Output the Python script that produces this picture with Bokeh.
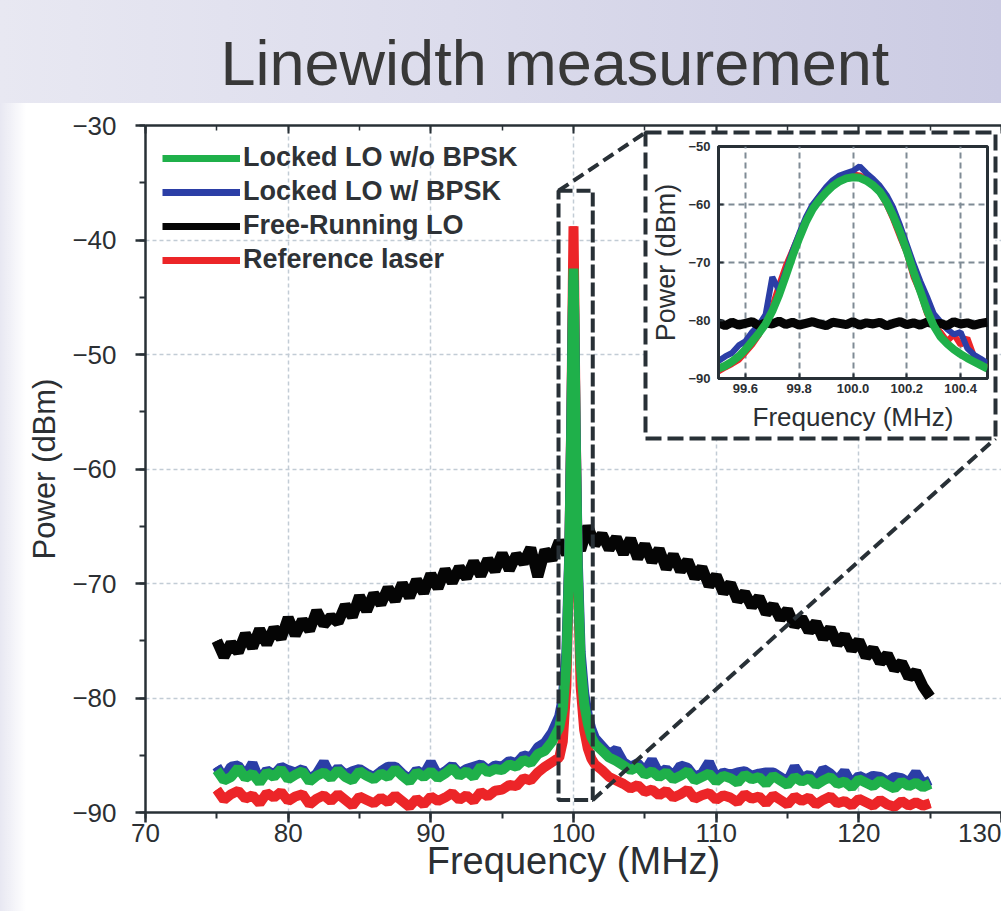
import numpy as np
from bokeh.plotting import figure
from bokeh.models import (Range1d, LinearAxis, FixedTicker, SingleIntervalTicker,
                          PrintfTickFormatter, Legend, LegendItem, CustomLabelingPolicy)
from bokeh.embed import file_html
from bokeh.resources import INLINE

FONT = "Liberation Sans"
AX = "#283036"
TXT = "#2b2f33"

# ---------------- data ----------------
FREQ_LOW = np.arange(75.0, 98.75, 0.5)
FREQ_PEAK = [99.0, 99.25, 99.5, 99.7, 99.85, 99.95, 100.0, 100.05, 100.15, 100.3, 100.5, 100.75, 101.0, 101.25]
FREQ_HIGH = np.arange(101.5, 125.25, 0.5)
FREQ_LOCKED = list(FREQ_LOW) + FREQ_PEAK + list(FREQ_HIGH)
FREQ_FREE = np.arange(75.0, 125.25, 0.5)

GREEN_LOW = [-86.3, -87.2, -86.9, -86.1, -87.0, -86.6, -87.4, -86.5,
             -86.9, -86.2, -87.1, -86.7, -86.4, -87.3, -86.8, -86.5,
             -87.0, -86.3, -86.9, -87.2, -86.4, -86.8, -87.1, -86.6,
             -86.9, -86.2, -86.8, -87.3, -86.5, -86.9, -86.4, -87.0,
             -86.6, -86.1, -86.8, -86.4, -86.9, -86.0, -86.5, -86.2,
             -86.3, -85.8, -86.0, -85.4, -85.7, -84.9, -84.6, -83.8]
GREEN_PEAK = [-82.6, -81.0, -77.0, -68.0, -56.0, -46.0, -42.5, -46.0, -57.0, -69.0, -77.0, -80.5, -82.2, -83.4]
GREEN_HIGH = [-84.0, -84.6, -85.2, -85.5, -85.9, -86.3, -86.0, -86.7,
              -86.4, -86.9, -86.5, -87.1, -86.8, -86.4, -87.2, -86.9,
              -86.6, -87.3, -86.8, -87.0, -87.4, -86.7, -87.1, -86.9,
              -87.5, -86.8, -87.2, -87.6, -86.9, -87.3, -87.0, -87.6,
              -87.2, -86.9, -87.5, -87.3, -87.8, -87.1, -87.4, -87.7,
              -87.2, -87.6, -87.9, -87.3, -87.7, -87.4, -87.8, -87.5]

BLUE_LOW = [-86.0, -87.0, -86.0, -85.9, -86.8, -85.7, -87.2, -86.3,
            -86.7, -86.0, -86.3, -86.5, -86.2, -87.1, -86.6, -85.6,
            -86.8, -86.1, -86.7, -86.4, -86.2, -86.6, -86.9, -86.4,
            -86.0, -86.0, -86.6, -87.1, -86.3, -86.7, -85.6, -86.8,
            -86.4, -85.9, -86.6, -86.2, -86.0, -85.8, -86.3, -85.9,
            -86.0, -85.5, -85.7, -85.0, -85.2, -84.3, -83.9, -83.0]
BLUE_PEAK = [-81.6, -80.0, -76.0, -67.5, -55.5, -46.5, -43.5, -46.5, -56.5, -68.0, -76.0, -79.6, -81.5, -82.7]
BLUE_HIGH = [-83.5, -84.2, -84.9, -84.5, -85.6, -86.0, -85.7, -86.4,
             -85.4, -86.6, -86.2, -86.8, -85.9, -86.1, -86.9, -86.6,
             -85.6, -87.0, -86.5, -86.7, -86.5, -86.4, -86.8, -86.6,
             -86.5, -86.5, -86.9, -87.3, -86.0, -87.0, -86.7, -87.3,
             -86.2, -86.6, -87.2, -86.4, -87.5, -86.8, -87.1, -86.8,
             -86.9, -87.3, -86.9, -87.0, -87.4, -86.5, -87.5, -87.2]

RED_LOW = [-88.0, -88.9, -88.4, -88.1, -88.8, -88.5, -89.2, -88.3,
           -88.7, -88.2, -89.0, -88.6, -88.4, -89.3, -88.8, -88.5,
           -89.0, -88.4, -88.9, -89.4, -88.6, -88.9, -89.2, -88.7,
           -89.1, -88.5, -89.0, -89.5, -88.8, -89.3, -88.6, -89.0,
           -88.7, -88.3, -88.9, -88.5, -89.0, -88.2, -88.6, -88.1,
           -88.0, -87.6, -87.7, -87.0, -87.2, -86.5, -86.0, -85.6]
RED_PEAK = [-85.2, -83.8, -79.0, -68.0, -55.0, -44.0, -38.8, -44.0, -56.0, -69.0, -79.0, -82.8, -84.4, -85.3]
RED_HIGH = [-85.8, -86.3, -86.9, -87.2, -87.5, -87.9, -87.6, -88.2,
            -88.0, -88.5, -88.1, -88.7, -88.4, -88.0, -88.8, -88.5,
            -88.3, -88.9, -88.5, -88.7, -89.1, -88.4, -88.8, -88.6,
            -89.2, -88.5, -88.9, -89.3, -88.6, -89.0, -88.7, -89.3,
            -88.9, -88.6, -89.2, -89.0, -89.4, -88.8, -89.1, -89.4,
            -88.9, -89.3, -89.5, -89.0, -89.4, -89.1, -89.4, -89.2]

BLACK = [-75.0, -76.4, -75.2, -76.0, -74.4, -75.6, -74.0, -75.3, -73.9, -74.8,
         -73.0, -74.5, -73.2, -74.1, -72.4, -73.6, -72.9, -73.4, -71.9, -72.9,
         -71.1, -72.4, -70.9, -71.8, -70.4, -71.5, -70.0, -71.2, -69.7, -70.8,
         -69.2, -70.4, -68.8, -69.9, -68.6, -69.5, -68.1, -69.3, -67.9, -68.9,
         -67.4, -68.8, -67.5, -68.2, -66.9, -69.4, -67.1, -67.9, -66.3, -67.4,
         -65.9, -67.1, -65.0, -66.6, -65.7, -67.0, -66.0, -67.4, -66.1, -67.8,
         -66.6, -68.1, -67.0, -68.7, -67.5, -68.9, -68.0, -69.5, -68.6, -70.2,
         -69.3, -70.8, -70.0, -71.5, -70.8, -72.0, -71.2, -72.6, -71.9, -73.1,
         -72.3, -73.7, -73.0, -74.2, -73.4, -74.8, -73.9, -75.3, -74.5, -75.8,
         -75.0, -76.4, -75.7, -76.9, -76.2, -77.5, -76.9, -78.2, -77.7, -79.0,
         -79.9]

# inset (zoom around 100 MHz)
INSET_FREQ = np.round(np.arange(99.5, 100.5001, 0.025), 3)
INSET_GREEN = [-88.3, -87.8, -87.1, -86.2, -85.0, -83.6, -82.2, -80.6, -78.4, -75.6,
               -72.3, -68.9, -65.8, -63.0, -60.8, -59.2, -57.9, -56.8, -56.0, -55.5,
               -55.3, -55.4, -55.9, -56.7, -57.8, -59.6, -62.0, -64.8, -68.0, -71.6,
               -74.9, -78.2, -80.9, -82.8, -84.0, -85.0, -85.8, -86.5, -87.1, -87.7,
               -88.3]
INSET_BLUE = [-87.0, -86.2, -85.6, -84.3, -83.6, -82.0, -80.8, -79.0, -72.5, -74.8,
              -71.5, -68.0, -65.0, -62.2, -60.0, -58.5, -57.0, -55.8, -55.0, -54.6,
              -54.2, -53.4, -54.6, -55.6, -56.8, -58.4, -60.6, -63.6, -66.9, -70.2,
              -73.2, -75.9, -78.8, -80.2, -81.5, -82.4, -82.0, -84.8, -85.9, -86.6,
              -87.4]
INSET_RED = [-88.8, -88.1, -87.5, -86.8, -85.5, -84.2, -82.5, -80.1, -77.6, -73.9,
             -70.6, -67.9, -65.2, -62.6, -60.3, -58.6, -57.2, -56.1, -55.4, -54.9,
             -54.8, -55.0, -55.6, -56.5, -57.9, -60.0, -62.6, -65.6, -68.4, -72.5,
             -75.2, -78.8, -81.0, -82.0, -83.6, -82.4, -84.2, -83.0, -86.2, -87.4,
             -88.0]
INSET_BLACK = [-80.4, -80.9, -80.3, -80.8, -80.5, -80.2, -80.9, -80.4, -80.6, -80.1,
               -80.7, -80.3, -80.8, -80.5, -80.2, -80.6, -80.9, -80.3, -80.5, -80.7,
               -80.2, -80.8, -80.4, -80.6, -80.3, -80.9, -80.5, -80.2, -80.7, -80.4,
               -80.8, -80.3, -80.6, -80.5, -80.9, -80.2, -80.6, -80.4, -80.8, -80.5,
               -80.3]

LABELS = ["Locked LO w/o BPSK", "Locked LO w/ BPSK", "Free-Running LO", "Reference laser"]
COLORS = {"green": "#1fb04a", "blue": "#2b3ea6", "black": "#050505", "red": "#ec2528"}

# zoom box on the main plot (MHz, dBm)
ZOOM_X = [98.95, 101.35]
ZOOM_Y = [-88.9, -35.7]

# ---------------- layout constants (pixels) ----------------
W, H = 1001, 911
FL, FR, FT, FB = 145, 1001, 125, 812          # main frame
# dashed inset frame (centre line of the dashed border)
FRAME_L, FRAME_T, FRAME_R, FRAME_B = 645, 132, 995, 438
# inset figure canvas
INS_L, INS_T, INS_W, INS_H = 648, 135, 344, 300

X0, X1, Y0, Y1 = 70, 130, -90, -30


def px_to_x(px):
    return X0 + (px - FL) / (FR - FL) * (X1 - X0)


def py_to_y(py):
    return Y1 - (py - FT) / (FB - FT) * (Y1 - Y0)


bg = ("linear-gradient(90deg, rgba(255,255,255,0) 0px, #ffffff 26px) 0px 103px / 100% 100% no-repeat, "
      "linear-gradient(90deg, #e8e8f2 0%, #dcdcec 45%, #cbcbe3 100%)")

# ---------------- main figure ----------------
p = figure(width=W, height=H, x_range=Range1d(X0, X1), y_range=Range1d(Y0, Y1),
           output_backend="svg", toolbar_location=None,
           min_border_left=FL, min_border_right=W - FR, min_border_top=FT,
           min_border_bottom=H - FB,
           x_axis_label="Frequency (MHz)", y_axis_label="Power (dBm)",
           styles={"background": bg})
p.border_fill_color = None
p.background_fill_color = "white"
p.outline_line_color = None

p.title.text = "Linewidth measurement"
p.title.text_font = FONT
p.title.text_font_size = "63px"
p.title.text_font_style = "normal"
p.title.text_color = "#383838"
p.title.align = "left"
p.title.offset = 75
p.title.standoff = 33

p.xaxis.ticker = SingleIntervalTicker(interval=10, num_minor_ticks=2)
p.yaxis.ticker = SingleIntervalTicker(interval=10, num_minor_ticks=2)
for ax in (p.xaxis[0], p.yaxis[0]):
    ax.axis_line_color = AX
    ax.axis_line_width = 2.5
    ax.major_tick_line_color = AX
    ax.major_tick_line_width = 2.5
    ax.major_tick_out = 10
    ax.major_tick_in = 0
    ax.minor_tick_line_color = AX
    ax.minor_tick_line_width = 2
    ax.minor_tick_out = 6
    ax.minor_tick_in = 0
    ax.major_label_text_font = FONT
    ax.major_label_text_font_size = "26px"
    ax.major_label_text_color = TXT
    ax.axis_label_text_font = FONT
    ax.axis_label_text_font_style = "normal"
    ax.axis_label_text_color = TXT
p.xaxis.major_label_standoff = 1
p.xaxis.axis_label_text_font_size = "38px"
p.xaxis.axis_label_standoff = -5
p.yaxis.major_label_standoff = 19
p.yaxis.axis_label_text_font_size = "31px"
p.yaxis.axis_label_standoff = 7

top_axis = LinearAxis(ticker=SingleIntervalTicker(interval=10, num_minor_ticks=2),
                      major_label_policy=CustomLabelingPolicy(code="return new Set()"),
                      major_label_standoff=0,
                      axis_line_color=AX, axis_line_width=2.5,
                      major_tick_line_color=AX, major_tick_line_width=2,
                      major_tick_in=8, major_tick_out=0,
                      minor_tick_line_color=AX, minor_tick_line_width=1.5,
                      minor_tick_in=5, minor_tick_out=0)
p.add_layout(top_axis, "above")

for g in (p.xgrid[0], p.ygrid[0]):
    g.grid_line_color = "#c2ccd5"
    g.grid_line_width = 1.5
    g.grid_line_dash = "4 3"

RED_ALL = RED_LOW + RED_PEAK + RED_HIGH
BLUE_ALL = BLUE_LOW + BLUE_PEAK + BLUE_HIGH
GREEN_ALL = GREEN_LOW + GREEN_PEAK + GREEN_HIGH

# thin copies underneath: used as the legend swatches
sw_black = p.line(FREQ_FREE, BLACK, line_color=COLORS["black"], line_width=7)
sw_red = p.line(FREQ_LOCKED, RED_ALL, line_color=COLORS["red"], line_width=7)
sw_blue = p.line(FREQ_LOCKED, BLUE_ALL, line_color=COLORS["blue"], line_width=7)
sw_green = p.line(FREQ_LOCKED, GREEN_ALL, line_color=COLORS["green"], line_width=7)

p.line(FREQ_FREE, BLACK, line_color=COLORS["black"], line_width=11)
p.line(FREQ_LOCKED, RED_ALL, line_color=COLORS["red"], line_width=10)
p.line(FREQ_LOCKED, BLUE_ALL, line_color=COLORS["blue"], line_width=10)
p.line(FREQ_LOCKED, GREEN_ALL, line_color=COLORS["green"], line_width=10)

# zoom box, connector lines and the dashed frame around the inset
p.quad(left=[ZOOM_X[0]], right=[ZOOM_X[1]], bottom=[ZOOM_Y[0]], top=[ZOOM_Y[1]],
       fill_alpha=0, line_color=AX, line_width=4, line_dash="14 4")
ix0, iy0 = px_to_x(FRAME_L), py_to_y(FRAME_T)
ix1, iy1 = px_to_x(FRAME_R), py_to_y(FRAME_B)
p.segment(x0=[ZOOM_X[0], ZOOM_X[1]], y0=[ZOOM_Y[1], ZOOM_Y[0]],
          x1=[ix0, ix1], y1=[iy0, iy1], line_color=AX, line_width=4, line_dash="12 6")
p.quad(left=[ix0], right=[ix1], top=[iy0], bottom=[iy1],
       fill_color="white", line_color=AX, line_width=4, line_dash="16 6")

legend = Legend(items=[LegendItem(label=LABELS[0], renderers=[sw_green]),
                       LegendItem(label=LABELS[1], renderers=[sw_blue]),
                       LegendItem(label=LABELS[2], renderers=[sw_black]),
                       LegendItem(label=LABELS[3], renderers=[sw_red])],
                location="top_left", margin=17, padding=0, spacing=3,
                glyph_width=78, glyph_height=26, label_height=26, label_standoff=3,
                label_text_font=FONT, label_text_font_size="27px",
                label_text_font_style="bold", label_text_color="#2e3236",
                border_line_alpha=0, background_fill_alpha=0)
p.add_layout(legend)

# ---------------- inset figure (separate root, placed over the main plot) ----------------
ins = figure(width=INS_W, height=INS_H, x_range=Range1d(99.5, 100.5), y_range=Range1d(-90, -50),
             output_backend="svg", toolbar_location=None,
             min_border_left=62, min_border_right=5, min_border_top=11, min_border_bottom=57,
             x_axis_label="Frequency (MHz)", y_axis_label="Power (dBm)",
             styles={"position": "absolute", "left": f"{INS_L}px", "top": f"{INS_T}px",
                     "background": "white", "z-index": "2"})
ins.border_fill_color = "white"
ins.background_fill_color = "white"
ins.outline_line_color = AX
ins.outline_line_width = 3
ins.xaxis.ticker = FixedTicker(ticks=[99.6, 99.8, 100.0, 100.2, 100.4])
ins.xaxis.formatter = PrintfTickFormatter(format="%.1f")
ins.yaxis.ticker = FixedTicker(ticks=[-90, -80, -70, -60, -50])
for ax in (ins.xaxis[0], ins.yaxis[0]):
    ax.axis_line_color = AX
    ax.axis_line_width = 3
    ax.major_tick_line_color = AX
    ax.major_tick_line_width = 2
    ax.major_tick_out = 0
    ax.major_tick_in = 5
    ax.minor_tick_line_color = None
    ax.major_label_text_font = FONT
    ax.major_label_text_font_size = "13px"
    ax.major_label_text_font_style = "bold"
    ax.major_label_text_color = TXT
    ax.axis_label_text_font = FONT
    ax.axis_label_text_font_style = "normal"
    ax.axis_label_text_color = TXT
ins.xaxis.major_label_standoff = 5
ins.yaxis.major_label_standoff = 8
ins.xaxis.axis_label_text_font_size = "26px"
ins.xaxis.axis_label_standoff = 6
ins.yaxis.axis_label_text_font_size = "27px"
ins.yaxis.axis_label_standoff = 4
for g in (ins.xgrid[0], ins.ygrid[0]):
    g.grid_line_color = "#7f8b95"
    g.grid_line_width = 2
    g.grid_line_dash = "6 4"

ins.line(INSET_FREQ, INSET_RED, line_color=COLORS["red"], line_width=6)
ins.line(INSET_FREQ, INSET_BLUE, line_color=COLORS["blue"], line_width=6)
ins.line(INSET_FREQ, INSET_BLACK, line_color=COLORS["black"], line_width=9)
ins.line(INSET_FREQ, INSET_GREEN, line_color=COLORS["green"], line_width=8)

open("out.html", "w").write(file_html([p, ins], INLINE))
